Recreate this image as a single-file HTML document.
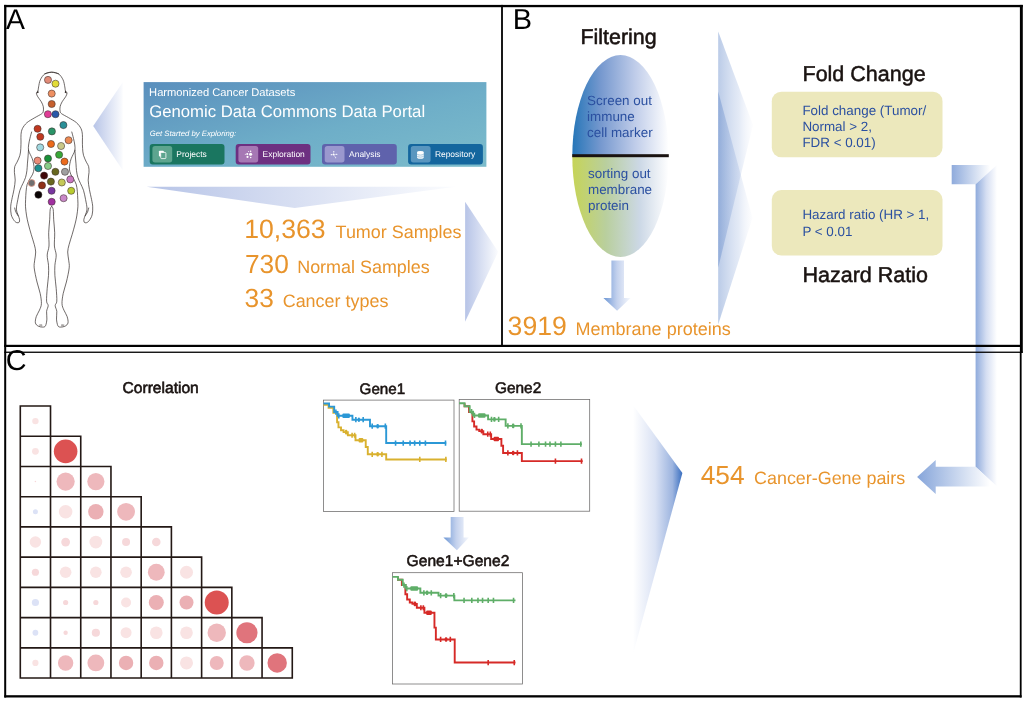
<!DOCTYPE html>
<html lang="en">
<head>
<meta charset="utf-8">
<title>Workflow figure</title>
<style>
html,body{margin:0;padding:0;background:#fff;}
body{width:1027px;height:704px;overflow:hidden;}
svg{display:block;font-family:"Liberation Sans",Arial,Helvetica,sans-serif;text-rendering:geometricPrecision;will-change:transform;opacity:0.9999;}
</style>
</head>
<body>
<svg width="1027" height="704" viewBox="0 0 1027 704">
<rect width="1027" height="704" fill="#fff"/>
<defs>
<linearGradient id="gBanner" x1="0" y1="0" x2="1" y2="1">
<stop offset="0" stop-color="#5a8fbd"/><stop offset="0.55" stop-color="#6eaec8"/><stop offset="1" stop-color="#7cbccb"/>
</linearGradient>
<linearGradient id="gLR" x1="0" y1="0" x2="1" y2="0">
<stop offset="0" stop-color="#b7c4e7"/><stop offset="1" stop-color="#fbfcfe"/>
</linearGradient>
<linearGradient id="gLRs" x1="0" y1="0" x2="1" y2="0">
<stop offset="0" stop-color="#6d97d5"/><stop offset="0.5" stop-color="#c3d1ed"/><stop offset="1" stop-color="#f6f8fd"/>
</linearGradient>
<linearGradient id="gTri" x1="0" y1="0" x2="1" y2="0">
<stop offset="0" stop-color="#5c84c7" stop-opacity="0.42"/><stop offset="0.6" stop-color="#88a5d9" stop-opacity="0.23"/><stop offset="1" stop-color="#c8d4ee" stop-opacity="0.04"/>
</linearGradient>
<linearGradient id="gBig" x1="0" y1="0" x2="1" y2="0">
<stop offset="0" stop-color="#ffffff"/><stop offset="0.45" stop-color="#dae2f4"/><stop offset="0.8" stop-color="#9cb4df"/><stop offset="1" stop-color="#3a6fc0"/>
</linearGradient>
<linearGradient id="gTop" x1="0" y1="0" x2="1" y2="0">
<stop offset="0" stop-color="#2676b8"/><stop offset="0.3" stop-color="#7799cf"/><stop offset="0.65" stop-color="#bfcce9"/><stop offset="1" stop-color="#ffffff"/>
</linearGradient>
<linearGradient id="gBot" x1="0" y1="0" x2="1" y2="0">
<stop offset="0" stop-color="#c6d457"/><stop offset="0.35" stop-color="#b9cf9e"/><stop offset="0.7" stop-color="#ccd8e6"/><stop offset="1" stop-color="#ffffff"/>
</linearGradient>
<clipPath id="cTop"><rect x="560" y="40" width="120" height="115.5"/></clipPath>
<clipPath id="cBot"><rect x="560" y="155.5" width="120" height="120"/></clipPath>
</defs>
<polygon points="93.2,125.9 122.7,82.3 122.7,170.2" fill="url(#gLR)"/>
<polygon points="146.7,186.7 455.6,186.7 294.7,208.1" fill="url(#gLR)"/>
<polygon points="465.1,201.7 498.2,251.8 465.1,321.8" fill="url(#gLR)"/>
<rect x="143.6" y="82.1" width="342.8" height="84.7" fill="url(#gBanner)"/>
<text x="149.1" y="95.8" font-size="11.15" fill="#fff">Harmonized Cancer Datasets</text>
<text x="149.15" y="116.6" font-size="16.73" fill="#fff">Genomic Data Commons Data Portal</text>
<text x="149.65" y="135.6" font-size="7.75" font-style="italic" fill="#fff">Get Started by Exploring:</text>
<rect x="149.7" y="144.0" width="74.8" height="20.5" rx="3" fill="#1a7660"/>
<rect x="152.4" y="146.1" width="19.8" height="16.3" rx="2.6" fill="#5da58f"/>
<text x="176.3" y="157.4" font-size="8.45" fill="#fff">Projects</text>
<rect x="235.7" y="144.0" width="74.8" height="20.5" rx="3" fill="#6d3081"/>
<rect x="238.4" y="146.1" width="19.8" height="16.3" rx="2.6" fill="#a678b4"/>
<text x="262.6" y="157.4" font-size="8.45" fill="#fff">Exploration</text>
<rect x="322" y="144.0" width="74.8" height="20.5" rx="3" fill="#5f62ac"/>
<rect x="324.7" y="146.1" width="19.8" height="16.3" rx="2.6" fill="#9a98ce"/>
<text x="349.1" y="157.4" font-size="8.45" fill="#fff">Analysis</text>
<rect x="408.1" y="144.0" width="74.8" height="20.5" rx="3" fill="#14669e"/>
<rect x="410.8" y="146.1" width="19.8" height="16.3" rx="2.6" fill="#5996bf"/>
<text x="434.9" y="157.4" font-size="8.45" fill="#fff">Repository</text>
<rect x="158.9" y="150.7" width="4.9" height="5.8" rx="0.9" fill="#fff"/>
<rect x="160.7" y="152.4" width="5.2" height="6.2" rx="0.9" fill="#5da58f" stroke="#fff" stroke-width="0.8"/>
<circle cx="250.6" cy="154.3" r="1.55" fill="#fff"/>
<circle cx="247.3" cy="154" r="1.05" fill="#fff"/>
<circle cx="247.5" cy="156.9" r="1.05" fill="#fff"/>
<circle cx="250.6" cy="151.3" r="0.75" fill="#fff"/>
<circle cx="250.7" cy="157.6" r="0.75" fill="#fff"/>
<circle cx="245.3" cy="154.3" r="0.5" fill="#fff"/>
<circle cx="248.6" cy="151.6" r="0.5" fill="#fff"/>
<path d="M333.8,151.6L333.6,154.6L331.4,154.7M333.6,154.6L336.7,154.3M333.6,154.6L335.6,157.6" stroke="#fff" stroke-width="0.55" fill="none" stroke-linecap="round" opacity="0.9"/>
<circle cx="333.8" cy="151.5" r="0.5" fill="#fff"/>
<circle cx="331.3" cy="154.7" r="0.6" fill="#fff"/>
<circle cx="336.8" cy="154.3" r="0.6" fill="#fff"/>
<circle cx="335.7" cy="157.7" r="0.5" fill="#fff"/>
<circle cx="333.6" cy="154.6" r="0.8" fill="#fff"/>
<path d="M417.1,152.2a3.3,1.3 0 0 1 6.6,0v5.2a3.3,1.3 0 0 1 -6.6,0Z" fill="#fff"/>
<path d="M417.1,153.9a3.3,1.2 0 0 0 6.6,0M417.1,155.9a3.3,1.2 0 0 0 6.6,0" fill="none" stroke="#5996bf" stroke-width="0.55"/>
<text x="244.2" y="238.3" font-size="26.6" fill="#e8942c">10,363</text>
<text x="335.6" y="238.3" font-size="17.95" fill="#e8942c">Tumor Samples</text>
<text x="244.9" y="272.8" font-size="26.3" fill="#e8942c">730</text>
<text x="297.2" y="272.8" font-size="17.95" fill="#e8942c">Normal Samples</text>
<text x="244.6" y="307.4" font-size="26.3" fill="#e8942c">33</text>
<text x="282.7" y="307.4" font-size="17.95" fill="#e8942c">Cancer types</text>
<path d="M58.6,73.9C57.45,73.62 54,72.2 51.7,72.2C49.4,72.2 46.7,72.62 44.8,73.9C42.9,75.18 41.33,77.73 40.3,79.9C39.27,82.07 38.98,85.12 38.6,86.9C38.22,88.68 38.37,89.55 38,90.6C37.63,91.65 36.43,92.17 36.4,93.2C36.37,94.23 36.98,95.37 37.8,96.8C38.62,98.23 40.38,100.15 41.3,101.8C42.22,103.45 42.97,105.13 43.3,106.7C43.63,108.27 43.55,110.03 43.3,111.2C43.05,112.37 43.22,112.62 41.8,113.7C40.38,114.78 37.28,116.2 34.8,117.7C32.32,119.2 28.97,120.88 26.9,122.7C24.83,124.52 23.38,126.62 22.4,128.6C21.42,130.58 21.23,132.53 21,134.6C20.77,136.67 21.03,138.68 21,141C20.97,143.32 20.98,146.12 20.8,148.5C20.62,150.88 20.53,153.02 19.9,155.3C19.27,157.58 17.85,160.35 17,162.2C16.15,164.05 15.23,164.7 14.8,166.4C14.37,168.1 14.33,170.12 14.4,172.4C14.47,174.68 15.27,177.27 15.2,180.1C15.13,182.93 14.57,186.13 14,189.4C13.43,192.67 12.35,196.8 11.8,199.7C11.25,202.6 10.79,204.28 10.7,206.8C10.61,209.32 10.68,212.52 11.25,214.8C11.82,217.08 13.16,219.18 14.1,220.5C15.04,221.82 16.05,222.42 16.9,222.7C17.75,222.98 18.77,222.77 19.2,222.2C19.63,221.63 19.65,220.4 19.5,219.3C19.35,218.2 18.82,217.3 18.3,215.6C17.78,213.9 16.48,211.75 16.4,209.1C16.32,206.45 17.22,202.83 17.8,199.7C18.38,196.57 19.05,193 19.9,190.3C20.75,187.6 21.97,185.63 22.9,183.5C23.83,181.37 24.83,179.63 25.5,177.5C26.17,175.37 26.58,172.97 26.9,170.7C27.22,168.43 27.22,166.18 27.4,163.9C27.58,161.62 27.82,159.28 28,157C28.18,154.72 28.42,151.33 28.5,150.2" fill="none" stroke="#2b2422" stroke-width="0.68" stroke-linejoin="round" stroke-linecap="round"/>
<path d="M44.8,73.9C45.95,73.62 49.4,72.2 51.7,72.2C54,72.2 56.7,72.62 58.6,73.9C60.5,75.18 62.07,77.73 63.1,79.9C64.13,82.07 64.42,85.12 64.8,86.9C65.18,88.68 65.03,89.55 65.4,90.6C65.77,91.65 66.97,92.17 67,93.2C67.03,94.23 66.42,95.37 65.6,96.8C64.78,98.23 63.02,100.15 62.1,101.8C61.18,103.45 60.43,105.13 60.1,106.7C59.77,108.27 59.85,110.03 60.1,111.2C60.35,112.37 60.18,112.62 61.6,113.7C63.02,114.78 66.12,116.2 68.6,117.7C71.08,119.2 74.43,120.88 76.5,122.7C78.57,124.52 80.02,126.62 81,128.6C81.98,130.58 82.17,132.53 82.4,134.6C82.63,136.67 82.37,138.68 82.4,141C82.43,143.32 82.42,146.12 82.6,148.5C82.78,150.88 82.87,153.02 83.5,155.3C84.13,157.58 85.55,160.35 86.4,162.2C87.25,164.05 88.17,164.7 88.6,166.4C89.03,168.1 89.07,170.12 89,172.4C88.93,174.68 88.13,177.27 88.2,180.1C88.27,182.93 88.83,186.13 89.4,189.4C89.97,192.67 91.05,196.8 91.6,199.7C92.15,202.6 92.61,204.28 92.7,206.8C92.79,209.32 92.72,212.52 92.15,214.8C91.58,217.08 90.24,219.18 89.3,220.5C88.36,221.82 87.35,222.42 86.5,222.7C85.65,222.98 84.63,222.77 84.2,222.2C83.77,221.63 83.75,220.4 83.9,219.3C84.05,218.2 84.58,217.3 85.1,215.6C85.62,213.9 86.92,211.75 87,209.1C87.08,206.45 86.18,202.83 85.6,199.7C85.02,196.57 84.35,193 83.5,190.3C82.65,187.6 81.43,185.63 80.5,183.5C79.57,181.37 78.57,179.63 77.9,177.5C77.23,175.37 76.82,172.97 76.5,170.7C76.18,168.43 76.18,166.18 76,163.9C75.82,161.62 75.58,159.28 75.4,157C75.22,154.72 74.98,151.33 74.9,150.2" fill="none" stroke="#2b2422" stroke-width="0.68" stroke-linejoin="round" stroke-linecap="round"/>
<path d="M14.7,208C14.88,208.65 15.23,210.62 15.8,211.9C16.37,213.18 17.72,215.07 18.1,215.7" fill="none" stroke="#2b2422" stroke-width="0.68" stroke-linejoin="round" stroke-linecap="round"/>
<path d="M88.7,208C88.52,208.65 88.17,210.62 87.6,211.9C87.03,213.18 85.68,215.07 85.3,215.7" fill="none" stroke="#2b2422" stroke-width="0.68" stroke-linejoin="round" stroke-linecap="round"/>
<path d="M31.6,132C31.32,133.08 30.4,136.33 29.9,138.5C29.4,140.67 28.83,143.05 28.6,145C28.37,146.95 28.22,148.62 28.5,150.2C28.78,151.78 29.67,153.07 30.3,154.5C30.93,155.93 31.75,157.23 32.3,158.8C32.85,160.37 33.32,162.2 33.6,163.9C33.88,165.6 34.15,167.3 34,169C33.85,170.7 33.33,172.53 32.7,174.1C32.07,175.67 31.12,176.7 30.2,178.4C29.28,180.1 27.88,182.17 27.2,184.3C26.52,186.43 26.37,188.63 26.1,191.2C25.83,193.77 25.7,197.1 25.6,199.7C25.5,202.3 25.33,204.1 25.5,206.8C25.67,209.5 26.13,213.05 26.6,215.9C27.07,218.75 27.52,220.77 28.3,223.9C29.08,227.03 30.3,231.25 31.3,234.7C32.3,238.15 33.57,241.72 34.3,244.6C35.03,247.48 35.63,249.4 35.7,252C35.77,254.6 34.95,257.55 34.7,260.2C34.45,262.85 33.82,264.27 34.2,267.9C34.58,271.53 36,277.73 37,282C38,286.27 39.47,289.88 40.2,293.5C40.93,297.12 41.52,300.93 41.4,303.7C41.28,306.47 40.35,307.97 39.5,310.1C38.65,312.23 36.98,314.37 36.3,316.5C35.62,318.63 35.08,321.3 35.4,322.9C35.72,324.5 36.98,325.4 38.2,326.1C39.42,326.8 41.48,327.15 42.7,327.1C43.92,327.05 44.8,327.13 45.5,325.8C46.2,324.47 46.72,321.5 46.9,319.1C47.08,316.7 46.38,313.65 46.6,311.4C46.82,309.15 48.2,307.3 48.2,305.6C48.2,303.9 46.77,304.07 46.6,301.2C46.43,298.33 46.88,292.67 47.2,288.4C47.52,284.13 48.28,279.45 48.5,275.6C48.72,271.75 48.72,268.72 48.5,265.3C48.28,261.88 47.12,258.32 47.2,255.1C47.28,251.88 48.75,249.73 49,246C49.25,242.27 48.58,237.07 48.7,232.7C48.82,228.33 49.45,223.67 49.7,219.8C49.95,215.93 49.87,211.73 50.2,209.5C50.53,207.27 51.45,206.92 51.7,206.4" fill="none" stroke="#2b2422" stroke-width="0.68" stroke-linejoin="round" stroke-linecap="round"/>
<path d="M71.8,132C72.08,133.08 73,136.33 73.5,138.5C74,140.67 74.57,143.05 74.8,145C75.03,146.95 75.18,148.62 74.9,150.2C74.62,151.78 73.73,153.07 73.1,154.5C72.47,155.93 71.65,157.23 71.1,158.8C70.55,160.37 70.08,162.2 69.8,163.9C69.52,165.6 69.25,167.3 69.4,169C69.55,170.7 70.07,172.53 70.7,174.1C71.33,175.67 72.28,176.7 73.2,178.4C74.12,180.1 75.52,182.17 76.2,184.3C76.88,186.43 77.03,188.63 77.3,191.2C77.57,193.77 77.7,197.1 77.8,199.7C77.9,202.3 78.07,204.1 77.9,206.8C77.73,209.5 77.27,213.05 76.8,215.9C76.33,218.75 75.88,220.77 75.1,223.9C74.32,227.03 73.1,231.25 72.1,234.7C71.1,238.15 69.83,241.72 69.1,244.6C68.37,247.48 67.77,249.4 67.7,252C67.63,254.6 68.45,257.55 68.7,260.2C68.95,262.85 69.58,264.27 69.2,267.9C68.82,271.53 67.4,277.73 66.4,282C65.4,286.27 63.93,289.88 63.2,293.5C62.47,297.12 61.88,300.93 62,303.7C62.12,306.47 63.05,307.97 63.9,310.1C64.75,312.23 66.42,314.37 67.1,316.5C67.78,318.63 68.32,321.3 68,322.9C67.68,324.5 66.42,325.4 65.2,326.1C63.98,326.8 61.92,327.15 60.7,327.1C59.48,327.05 58.6,327.13 57.9,325.8C57.2,324.47 56.68,321.5 56.5,319.1C56.32,316.7 57.02,313.65 56.8,311.4C56.58,309.15 55.2,307.3 55.2,305.6C55.2,303.9 56.63,304.07 56.8,301.2C56.97,298.33 56.52,292.67 56.2,288.4C55.88,284.13 55.12,279.45 54.9,275.6C54.68,271.75 54.68,268.72 54.9,265.3C55.12,261.88 56.28,258.32 56.2,255.1C56.12,251.88 54.65,249.73 54.4,246C54.15,242.27 54.82,237.07 54.7,232.7C54.58,228.33 53.95,223.67 53.7,219.8C53.45,215.93 53.53,211.73 53.2,209.5C52.87,207.27 51.95,206.92 51.7,206.4" fill="none" stroke="#2b2422" stroke-width="0.68" stroke-linejoin="round" stroke-linecap="round"/>
<path d="M36.6,93.4L37.9,90.2L38.8,92.6Z" fill="#2b2422"/>
<path d="M66.8,93.4L65.5,90.2L64.6,92.6Z" fill="#2b2422"/>
<path d="M39.6,324.4l0.4,1.8M40.6,324.2l0.4,2M41.6,324.2l0.3,2" stroke="#2b2422" stroke-width="0.4" fill="none"/>
<path d="M63.8,324.4l-0.4,1.8M62.8,324.2l-0.4,2M61.8,324.2l-0.3,2" stroke="#2b2422" stroke-width="0.4" fill="none"/>
<circle cx="48" cy="79.9" r="3.55" fill="#e28b78" stroke="#3a2c2a" stroke-width="0.55"/>
<circle cx="55.5" cy="83.7" r="3.55" fill="#e2dc38" stroke="#3a2c2a" stroke-width="0.55"/>
<circle cx="51.7" cy="93.6" r="3.55" fill="#ee9062" stroke="#3a2c2a" stroke-width="0.55"/>
<circle cx="51.7" cy="104" r="3.55" fill="#c6602f" stroke="#3a2c2a" stroke-width="0.55"/>
<circle cx="47.9" cy="114.2" r="3.55" fill="#e03c96" stroke="#3a2c2a" stroke-width="0.55"/>
<circle cx="55.5" cy="114.2" r="3.55" fill="#2858a8" stroke="#3a2c2a" stroke-width="0.55"/>
<circle cx="63.4" cy="125.1" r="3.55" fill="#2a9098" stroke="#3a2c2a" stroke-width="0.55"/>
<circle cx="37.6" cy="128.8" r="3.55" fill="#c03820" stroke="#3a2c2a" stroke-width="0.55"/>
<circle cx="51.9" cy="131.4" r="3.55" fill="#2a9468" stroke="#3a2c2a" stroke-width="0.55"/>
<circle cx="40.3" cy="136.8" r="3.55" fill="#c03820" stroke="#3a2c2a" stroke-width="0.55"/>
<circle cx="68.6" cy="140.2" r="3.55" fill="#ec8a54" stroke="#3a2c2a" stroke-width="0.55"/>
<circle cx="51" cy="144" r="3.55" fill="#ec6a1c" stroke="#3a2c2a" stroke-width="0.55"/>
<circle cx="61.1" cy="146" r="3.55" fill="#cac888" stroke="#3a2c2a" stroke-width="0.55"/>
<circle cx="40.2" cy="147.4" r="3.55" fill="#a0d8e0" stroke="#3a2c2a" stroke-width="0.55"/>
<circle cx="59.1" cy="154.8" r="3.55" fill="#38a838" stroke="#3a2c2a" stroke-width="0.55"/>
<circle cx="48" cy="158.5" r="3.55" fill="#189038" stroke="#3a2c2a" stroke-width="0.55"/>
<circle cx="37.6" cy="160.6" r="3.55" fill="#ec8c78" stroke="#3a2c2a" stroke-width="0.55"/>
<circle cx="64.5" cy="161.6" r="3.55" fill="#ec6a1c" stroke="#3a2c2a" stroke-width="0.55"/>
<circle cx="48" cy="166" r="3.55" fill="#88cc88" stroke="#3a2c2a" stroke-width="0.55"/>
<circle cx="38.4" cy="168.2" r="3.55" fill="#1c9090" stroke="#3a2c2a" stroke-width="0.55"/>
<circle cx="55.4" cy="171.8" r="3.55" fill="#686820" stroke="#3a2c2a" stroke-width="0.55"/>
<circle cx="65" cy="171.8" r="3.55" fill="#a0a0a0" stroke="#3a2c2a" stroke-width="0.55"/>
<circle cx="44.1" cy="175.6" r="3.55" fill="#400808" stroke="#3a2c2a" stroke-width="0.55"/>
<circle cx="70.3" cy="179.4" r="3.55" fill="#c878c0" stroke="#3a2c2a" stroke-width="0.55"/>
<circle cx="50.9" cy="181.6" r="3.55" fill="#686820" stroke="#3a2c2a" stroke-width="0.55"/>
<circle cx="61.8" cy="182.5" r="3.55" fill="#c4c858" stroke="#3a2c2a" stroke-width="0.55"/>
<circle cx="42" cy="185.4" r="3.55" fill="#903018" stroke="#3a2c2a" stroke-width="0.55"/>
<circle cx="51.6" cy="190.8" r="3.55" fill="#7838a0" stroke="#3a2c2a" stroke-width="0.55"/>
<circle cx="71.2" cy="190.8" r="3.55" fill="#b8cc30" stroke="#3a2c2a" stroke-width="0.55"/>
<circle cx="38.4" cy="194.8" r="3.55" fill="#0a0404" stroke="#3a2c2a" stroke-width="0.55"/>
<circle cx="63.6" cy="198.2" r="3.55" fill="#c888c8" stroke="#3a2c2a" stroke-width="0.55"/>
<circle cx="51.7" cy="201.8" r="3.55" fill="#a030a0" stroke="#3a2c2a" stroke-width="0.55"/>
<circle cx="31.6" cy="183.0" r="3.45" fill="#707070" stroke="#e89a84" stroke-width="0.7"/>
<text x="580.5" y="44.15" font-size="21.4" fill="#1a1311" stroke="#1a1311" stroke-width="0.55">Filtering</text>
<ellipse cx="620.5" cy="156" rx="48.2" ry="101" fill="url(#gTop)" clip-path="url(#cTop)"/>
<ellipse cx="620.5" cy="156" rx="48.2" ry="101" fill="url(#gBot)" clip-path="url(#cBot)"/>
<rect x="572.2" y="154.2" width="96.6" height="3.0" fill="#1a1311"/>
<text x="587.1" y="104.8" font-size="13.42" fill="#2b50a0">Screen out</text>
<text x="587.1" y="121" font-size="13.42" fill="#2b50a0">immune</text>
<text x="587.1" y="137.2" font-size="13.42" fill="#2b50a0">cell marker</text>
<text x="588.0" y="177.8" font-size="13.42" fill="#2b50a0">sorting out</text>
<text x="588.0" y="193.8" font-size="13.42" fill="#2b50a0">membrane</text>
<text x="588.0" y="209.8" font-size="13.42" fill="#2b50a0">protein</text>
<polygon points="611.4,260.5 624,260.5 624,297.9 630.6,297.9 617.1,310.8 603.4,297.9 611.4,297.9" fill="url(#gLRs)"/>
<text x="507.6" y="334.6" font-size="26.6" fill="#e8942c">3919</text>
<text x="575.6" y="334.6" font-size="18" fill="#e8942c">Membrane proteins</text>
<polygon points="718.2,31.4 753,125 718.2,267.7" fill="url(#gTri)"/>
<polygon points="718.2,91.6 752.5,218 718.2,324.5" fill="url(#gTri)"/>
<text x="802.5" y="81.4" font-size="21.5" fill="#1a1311" stroke="#1a1311" stroke-width="0.5">Fold Change</text>
<rect x="771.8" y="91.7" width="170.7" height="65.5" rx="9.5" fill="#ece8bc"/>
<text x="802.4" y="114.6" font-size="13.4" fill="#2b50a0">Fold change (Tumor/</text>
<text x="802.4" y="130.6" font-size="13.4" fill="#2b50a0">Normal &gt; 2,</text>
<text x="802.4" y="146.6" font-size="13.4" fill="#2b50a0">FDR &lt; 0.01)</text>
<rect x="771.8" y="190.1" width="170.7" height="65.4" rx="9.5" fill="#ece8bc"/>
<text x="802.4" y="219.1" font-size="13.4" fill="#2b50a0">Hazard ratio (HR &gt; 1,</text>
<text x="802.4" y="235.5" font-size="13.4" fill="#2b50a0">P &lt; 0.01</text>
<text x="802.5" y="282" font-size="21.5" fill="#1a1311" stroke="#1a1311" stroke-width="0.5">Hazard Ratio</text>
<linearGradient id="gEl1" gradientUnits="userSpaceOnUse" x1="951.7" y1="0" x2="990" y2="0"><stop offset="0" stop-color="#8fabdc"/><stop offset="1" stop-color="#ffffff"/></linearGradient>
<linearGradient id="gEl2" gradientUnits="userSpaceOnUse" x1="975.6" y1="0" x2="997" y2="0"><stop offset="0" stop-color="#8fabdc"/><stop offset="0.5" stop-color="#d5def2"/><stop offset="1" stop-color="#ffffff"/></linearGradient>
<linearGradient id="gEl3" gradientUnits="userSpaceOnUse" x1="917" y1="0" x2="990" y2="0"><stop offset="0" stop-color="#86a5da"/><stop offset="1" stop-color="#ffffff"/></linearGradient>
<polygon points="951.7,165.1 996.9,165.1 975.6,184.2 951.7,184.2" fill="url(#gEl1)"/>
<polygon points="996.9,165.1 996.9,486.4 975.6,466.8 975.6,184.2" fill="url(#gEl2)"/>
<polygon points="975.6,466.8 996.9,486.4 935.7,486.4 935.7,494.1 917.1,477 935.7,459.9 935.7,466.8" fill="url(#gEl3)"/>
<text x="122.5" y="392.9" font-size="15.6" fill="#1a1311" stroke="#1a1311" stroke-width="0.6">Correlation</text>
<circle cx="35.41" cy="421.12" r="3.2" fill="#f9e3e3"/>
<circle cx="35.41" cy="451.35" r="3.4" fill="#f9e3e3"/>
<circle cx="65.63" cy="451.35" r="11.8" fill="#dc5252"/>
<circle cx="35.41" cy="481.57" r="0.8" fill="#f6d8da"/>
<circle cx="65.63" cy="481.57" r="9.1" fill="#eeb8bc"/>
<circle cx="95.85" cy="481.57" r="8.6" fill="#eeb8bc"/>
<circle cx="35.41" cy="511.81" r="2.5" fill="#dce2f6"/>
<circle cx="65.63" cy="511.81" r="6.8" fill="#f9e3e3"/>
<circle cx="95.85" cy="511.81" r="7.7" fill="#ebb0b4"/>
<circle cx="126.07" cy="511.81" r="8.9" fill="#eeb8bc"/>
<circle cx="35.41" cy="542.03" r="5.7" fill="#f9e3e3"/>
<circle cx="65.63" cy="542.03" r="4.4" fill="#f6d8da"/>
<circle cx="95.85" cy="542.03" r="6.4" fill="#f9e3e3"/>
<circle cx="126.07" cy="542.03" r="4" fill="#f6d8da"/>
<circle cx="156.29" cy="542.03" r="4.3" fill="#f6d8da"/>
<circle cx="35.41" cy="572.26" r="3.6" fill="#f6d8da"/>
<circle cx="65.63" cy="572.26" r="5.8" fill="#f9e3e3"/>
<circle cx="95.85" cy="572.26" r="5.8" fill="#f9e3e3"/>
<circle cx="126.07" cy="572.26" r="5.8" fill="#f9e3e3"/>
<circle cx="156.29" cy="572.26" r="8.4" fill="#eeb8bc"/>
<circle cx="186.51" cy="572.26" r="6.5" fill="#f9e3e3"/>
<circle cx="35.41" cy="602.5" r="3.6" fill="#dce2f6"/>
<circle cx="65.63" cy="602.5" r="2.6" fill="#f6d8da"/>
<circle cx="95.85" cy="602.5" r="2.6" fill="#f6d8da"/>
<circle cx="126.07" cy="602.5" r="5" fill="#f9e3e3"/>
<circle cx="156.29" cy="602.5" r="7.5" fill="#ebb0b4"/>
<circle cx="186.51" cy="602.5" r="7" fill="#ebb0b4"/>
<circle cx="216.73" cy="602.5" r="12" fill="#dc5252"/>
<circle cx="35.41" cy="632.73" r="2.9" fill="#dce2f6"/>
<circle cx="65.63" cy="632.73" r="2.2" fill="#f6d8da"/>
<circle cx="95.85" cy="632.73" r="4.1" fill="#f6d8da"/>
<circle cx="126.07" cy="632.73" r="5.5" fill="#f9e3e3"/>
<circle cx="156.29" cy="632.73" r="6.3" fill="#f9e3e3"/>
<circle cx="186.51" cy="632.73" r="6.3" fill="#f9e3e3"/>
<circle cx="216.73" cy="632.73" r="9.2" fill="#eeb8bc"/>
<circle cx="246.95" cy="632.73" r="10.6" fill="#e0747c"/>
<circle cx="35.41" cy="662.95" r="3.1" fill="#f9e3e3"/>
<circle cx="65.63" cy="662.95" r="7.7" fill="#eeb8bc"/>
<circle cx="95.85" cy="662.95" r="8.4" fill="#eeb8bc"/>
<circle cx="126.07" cy="662.95" r="7.2" fill="#ebb0b4"/>
<circle cx="156.29" cy="662.95" r="7.2" fill="#ebb0b4"/>
<circle cx="186.51" cy="662.95" r="6.5" fill="#f9e3e3"/>
<circle cx="216.73" cy="662.95" r="7" fill="#eeb8bc"/>
<circle cx="246.95" cy="662.95" r="7.7" fill="#eeb8bc"/>
<circle cx="277.17" cy="662.95" r="9.7" fill="#e0747c"/>
<path d="M20.3,406h30.22v30.23h-30.22ZM20.3,436.23h60.44v30.23h-60.44ZM50.52,436.23v30.23M20.3,466.46h90.66v30.23h-90.66ZM50.52,466.46v30.23M80.74,466.46v30.23M20.3,496.69h120.88v30.23h-120.88ZM50.52,496.69v30.23M80.74,496.69v30.23M110.96,496.69v30.23M20.3,526.92h151.1v30.23h-151.1ZM50.52,526.92v30.23M80.74,526.92v30.23M110.96,526.92v30.23M141.18,526.92v30.23M20.3,557.15h181.32v30.23h-181.32ZM50.52,557.15v30.23M80.74,557.15v30.23M110.96,557.15v30.23M141.18,557.15v30.23M171.4,557.15v30.23M20.3,587.38h211.54v30.23h-211.54ZM50.52,587.38v30.23M80.74,587.38v30.23M110.96,587.38v30.23M141.18,587.38v30.23M171.4,587.38v30.23M201.62,587.38v30.23M20.3,617.61h241.76v30.23h-241.76ZM50.52,617.61v30.23M80.74,617.61v30.23M110.96,617.61v30.23M141.18,617.61v30.23M171.4,617.61v30.23M201.62,617.61v30.23M231.84,617.61v30.23M20.3,647.84h271.98v30.23h-271.98ZM50.52,647.84v30.23M80.74,647.84v30.23M110.96,647.84v30.23M141.18,647.84v30.23M171.4,647.84v30.23M201.62,647.84v30.23M231.84,647.84v30.23M262.06,647.84v30.23" fill="none" stroke="#231815" stroke-width="1.6" stroke-linejoin="miter"/>
<text x="359.6" y="393.7" font-size="15.2" fill="#1a1311" stroke="#1a1311" stroke-width="0.55">Gene1</text>
<text x="495.0" y="392.5" font-size="15.4" fill="#1a1311" stroke="#1a1311" stroke-width="0.55">Gene2</text>
<text x="406.6" y="566.4" font-size="15.6" fill="#1a1311" stroke="#1a1311" stroke-width="0.55">Gene1+Gene2</text>
<rect x="323.6" y="400.1" width="130.4" height="111.3" fill="#fff" stroke="#6a6868" stroke-width="0.75"/>
<rect x="459.2" y="399.4" width="130.5" height="111.8" fill="#fff" stroke="#6a6868" stroke-width="0.75"/>
<rect x="392.5" y="572.7" width="130" height="111.3" fill="#fff" stroke="#6a6868" stroke-width="0.75"/>
<path d="M323.63,404.89L328.57,404.89L328.57,407.79L333.34,407.79L333.34,412.9L337.09,412.9L337.09,422.28L338.46,422.28L338.46,427.39L341.01,427.39L341.01,430.29L343.57,430.29L343.57,432.16L347.83,432.16L347.83,435.23L355.5,435.23L355.5,440.18L365.73,440.18L365.73,446.99L367.78,446.99L367.78,454.32L386.19,454.32L386.19,459.44L446.71,459.44" fill="none" stroke="#d9b12f" stroke-width="1.9" stroke-linejoin="miter"/>
<path d="M352.09,432.63v5.2M354.65,432.63v5.2M372.21,451.72v5.2M381.93,451.72v5.2M419.77,456.84v5.2M445.86,456.84v5.2" fill="none" stroke="#d9b12f" stroke-width="1.6"/>
<rect x="344.93" y="429.86" width="2.39" height="4.6" rx="1" fill="#d9b12f"/>
<rect x="358.57" y="437.88" width="4.77" height="4.6" rx="1" fill="#d9b12f"/>
<rect x="376.47" y="452.02" width="2.39" height="4.6" rx="1" fill="#d9b12f"/>
<path d="M323.63,403.52L329.08,403.52L329.08,406.59L334.2,406.59L334.2,412.05L337.6,412.05L337.6,415.8L352.44,415.8L352.44,419.72L369.99,419.72L369.99,426.2L386.19,426.2L386.19,443.07L446.2,443.07" fill="none" stroke="#2b98d6" stroke-width="1.9" stroke-linejoin="miter"/>
<path d="M335.9,409.45v5.2M338.8,413.2v5.2M355.85,417.12v5.2M363.18,417.12v5.2M372.21,423.6v5.2M385.34,423.6v5.2M395.57,440.47v5.2M403.24,440.47v5.2M410.06,440.47v5.2M414.66,440.47v5.2M419.77,440.47v5.2M425.4,440.47v5.2M445.51,440.47v5.2" fill="none" stroke="#2b98d6" stroke-width="1.6"/>
<rect x="342.38" y="413.5" width="7.5" height="4.6" rx="1" fill="#2b98d6"/>
<rect x="357.89" y="417.42" width="2.05" height="4.6" rx="1" fill="#2b98d6"/>
<rect x="376.47" y="423.9" width="2.39" height="4.6" rx="1" fill="#2b98d6"/>
<path d="M464.57,403.18L464.57,406.25L469,406.25L469,412.05L472.41,412.05L472.41,421.42L474.12,421.42L474.12,426.54L476.5,426.54L476.5,429.61L479.23,429.61L479.23,431.14L483.32,431.14L483.32,434.21L491.16,434.21L491.16,438.98L501.39,438.98L501.39,445.8L503.1,445.8L503.1,452.96L521.85,452.96L521.85,461.14L582.71,461.14" fill="none" stroke="#d62a27" stroke-width="1.9" stroke-linejoin="miter"/>
<path d="M487.75,431.61v5.2M490.31,431.61v5.2M507.87,450.36v5.2M517.42,450.36v5.2M555.43,458.54v5.2M581.51,458.54v5.2" fill="none" stroke="#d62a27" stroke-width="1.6"/>
<rect x="480.59" y="428.84" width="2.39" height="4.6" rx="1" fill="#d62a27"/>
<rect x="493.55" y="436.68" width="5.46" height="4.6" rx="1" fill="#d62a27"/>
<rect x="511.96" y="450.66" width="2.39" height="4.6" rx="1" fill="#d62a27"/>
<path d="M459.11,403.18L464.57,403.18L464.57,406.25L469.68,406.25L469.68,411.71L473.09,411.71L473.09,415.46L488.09,415.46L488.09,419.38L505.65,419.38L505.65,425.86L521.85,425.86L521.85,444.1L581.86,444.1" fill="none" stroke="#5fae68" stroke-width="1.9" stroke-linejoin="miter"/>
<path d="M471.56,409.11v5.2M474.46,412.86v5.2M491.5,416.78v5.2M498.66,416.78v5.2M507.87,423.26v5.2M521,423.26v5.2M531.05,441.5v5.2M538.9,441.5v5.2M545.54,441.5v5.2M549.98,441.5v5.2M555.43,441.5v5.2M560.89,441.5v5.2M580.83,441.5v5.2" fill="none" stroke="#5fae68" stroke-width="1.6"/>
<rect x="478.04" y="413.16" width="7.5" height="4.6" rx="1" fill="#5fae68"/>
<rect x="493.21" y="417.08" width="2.39" height="4.6" rx="1" fill="#5fae68"/>
<rect x="511.96" y="423.56" width="2.39" height="4.6" rx="1" fill="#5fae68"/>
<path d="M397.98,576.92L397.98,579.74L401.86,579.74L401.86,585.03L405.38,585.03L405.38,594.19L407.14,594.19L407.14,599.47L409.78,599.47L409.78,602.47L412.43,602.47L412.43,603.88L416.83,603.88L416.83,607.75L424.41,607.75L424.41,612.69L434.45,612.69L434.45,627.66L435.86,627.66L435.86,639.47L454.71,639.47L454.71,662.55L515.49,662.55" fill="none" stroke="#d62a27" stroke-width="1.9" stroke-linejoin="miter"/>
<path d="M420.88,605.15v5.2M423.35,605.15v5.2M440.62,636.87v5.2M450.31,636.87v5.2M488.18,659.95v5.2M514.26,659.95v5.2" fill="none" stroke="#d62a27" stroke-width="1.6"/>
<rect x="413.66" y="601.58" width="2.47" height="4.6" rx="1" fill="#d62a27"/>
<rect x="426.17" y="610.39" width="5.64" height="4.6" rx="1" fill="#d62a27"/>
<rect x="444.84" y="637.17" width="2.47" height="4.6" rx="1" fill="#d62a27"/>
<path d="M392.52,576.92L397.98,576.92L397.98,579.74L402.74,579.74L402.74,585.03L405.73,585.03L405.73,588.55L420.36,588.55L420.36,592.78L438.5,592.78L438.5,595.6L454.36,595.6L454.36,600.36L515.49,600.36" fill="none" stroke="#5fae68" stroke-width="1.9" stroke-linejoin="miter"/>
<path d="M403.97,582.43v5.2M406.79,585.95v5.2M423.88,590.18v5.2M431.28,590.18v5.2M440.62,593v5.2M453.83,593v5.2M464.05,597.76v5.2M471.8,597.76v5.2M477.97,597.76v5.2M482.55,597.76v5.2M488.18,597.76v5.2M493.47,597.76v5.2M513.55,597.76v5.2" fill="none" stroke="#5fae68" stroke-width="1.6"/>
<rect x="410.31" y="586.25" width="7.75" height="4.6" rx="1" fill="#5fae68"/>
<rect x="425.82" y="590.48" width="2.47" height="4.6" rx="1" fill="#5fae68"/>
<rect x="444.84" y="593.3" width="2.47" height="4.6" rx="1" fill="#5fae68"/>
<polygon points="450.7,517.1 463.6,517.1 463.6,537.4 469,537.4 456.9,550.3 443.4,537.4 450.7,537.4" fill="url(#gLRs)"/>
<polygon points="633,405 682.4,473 633,654.2" fill="url(#gBig)"/>
<text x="700.7" y="483.7" font-size="26.3" fill="#e8942c">454</text>
<text x="754.1" y="483.7" font-size="17.9" fill="#e8942c">Cancer-Gene pairs</text>
<rect x="4.1" y="4.9" width="1018.7" height="2.3" fill="#000"/>
<rect x="4.1" y="4.9" width="2.3" height="342.1" fill="#000"/>
<rect x="4.2" y="347" width="2" height="350.5" fill="#000"/>
<rect x="501.1" y="4.9" width="1.8" height="342.1" fill="#000"/>
<rect x="1019.9" y="4.9" width="2.9" height="347.8" fill="#000"/>
<rect x="1019.8" y="352" width="1.8" height="345.5" fill="#000"/>
<rect x="4.1" y="344.8" width="1015.9" height="2.2" fill="#000"/>
<rect x="4.3" y="351.6" width="1018.5" height="1.3" fill="#000"/>
<rect x="4.3" y="695.2" width="1017.3" height="2.3" fill="#000"/>
<text x="6.0" y="28.6" font-size="28.4" fill="#000">A</text>
<text x="512.8" y="28.5" font-size="28.9" fill="#000">B</text>
<text x="5.8" y="369.7" font-size="28.8" fill="#000">C</text>
</svg>
</body>
</html>
